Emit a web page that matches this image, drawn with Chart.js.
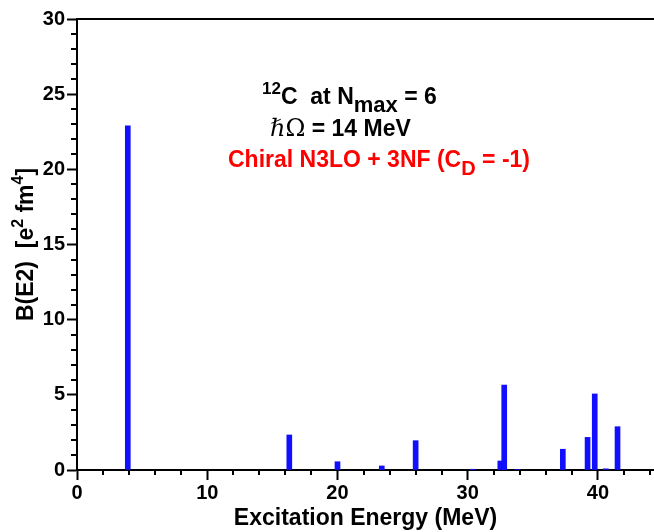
<!DOCTYPE html>
<html>
<head>
<meta charset="utf-8">
<script src="https://cdn.jsdelivr.net/npm/chart.js@4/dist/chart.umd.min.js"></script>
<style>
html,body{margin:0;padding:0;background:#fff;}
#wrap{width:654px;height:532px;position:relative;}
</style>
</head>
<body>
<div id="wrap"><canvas id="c" width="654" height="532"></canvas></div>
<script>
// Data
const energies = [3.9, 16.3, 20.0, 23.4, 26.0, 30.4, 32.5, 32.8, 33.8, 37.3, 39.2, 39.75, 40.6, 41.5];
const bE2 = [22.9, 2.33, 0.55, 0.27, 1.95, 0.05, 0.6, 5.65, 0.03, 1.38, 2.17, 5.06, 0.08, 2.88];
const xTickValues = [0, 10, 20, 30, 40];
const yTickValues = [0, 5, 10, 15, 20, 25, 30];
const xTitle = 'Excitation Energy (MeV)';

const SANS = '"Liberation Sans", Arial, sans-serif';
const points = energies.map((e, i) => ({x: e, y: bE2[i]}));

function drawRich(ctx, parts, x, y) {
  let cx = x;
  parts.forEach(p => {
    ctx.font = p.font;
    ctx.fillText(p.t, cx, y + (p.dy || 0));
    cx += ctx.measureText(p.t).width + (p.gap || 0);
  });
  return cx - x;
}
function richWidth(ctx, parts) {
  let w = 0;
  parts.forEach(p => { ctx.font = p.font; w += ctx.measureText(p.t).width + (p.gap || 0); });
  return w;
}

const decor = {
  id: 'decor',
  afterDraw(chart) {
    const ctx = chart.ctx;
    const xs = chart.scales.x, ys = chart.scales.y;
    const ca = chart.chartArea;
    ctx.save();
    ctx.strokeStyle = '#000';
    ctx.lineWidth = 2;
    // top frame line
    ctx.beginPath();
    ctx.moveTo(ca.left, ca.top);
    ctx.lineTo(ca.right + 2, ca.top);
    ctx.stroke();
    // minor ticks
    ctx.beginPath();
    for (let v = 1; v < 30; v++) {
      if (v % 5 === 0) continue;
      const py = Math.round(ys.getPixelForValue(v));
      ctx.moveTo(ca.left, py);
      ctx.lineTo(ca.left - 6, py);
    }
    for (let v = 2; v <= 44; v += 2) {
      if (v % 10 === 0) continue;
      const px = Math.round(xs.getPixelForValue(v));
      ctx.moveTo(px, ca.bottom);
      ctx.lineTo(px, ca.bottom + 5);
    }
    ctx.stroke();

    ctx.fillStyle = '#000';
    ctx.textBaseline = 'alphabetic';
    // x title
    ctx.font = 'bold 23px ' + SANS;
    ctx.textAlign = 'center';
    ctx.fillText(xTitle, (ca.left + ca.right) / 2, 525);
    ctx.textAlign = 'left';

    // y title (rotated)
    const yParts = [
      {t: 'B(E2)  [e', font: 'bold 23px ' + SANS},
      {t: '2', font: 'bold 16px ' + SANS, dy: -10},
      {t: ' fm', font: 'bold 23px ' + SANS},
      {t: '4', font: 'bold 16px ' + SANS, dy: -10},
      {t: ']', font: 'bold 23px ' + SANS}
    ];
    ctx.save();
    ctx.translate(33, (ca.top + ca.bottom) / 2);
    ctx.rotate(-Math.PI / 2);
    const yw = richWidth(ctx, yParts);
    drawRich(ctx, yParts, -yw / 2, 0);
    ctx.restore();

    // annotation lines
    drawRich(ctx, [
      {t: '12', font: 'bold 17px ' + SANS, dy: -10},
      {t: 'C  at N', font: 'bold 23px ' + SANS},
      {t: 'max', font: 'bold 22px ' + SANS, dy: 8},
      {t: ' = 6', font: 'bold 23px ' + SANS}
    ], 262, 104);
    drawRich(ctx, [
      {t: 'ℏΩ', font: '24px "DejaVu Serif", serif'},
      {t: ' = 14 MeV', font: 'bold 23px ' + SANS}
    ], 270, 136);
    ctx.fillStyle = '#ff0000';
    drawRich(ctx, [
      {t: 'Chiral N3LO + 3NF (C', font: 'bold 23px ' + SANS},
      {t: 'D', font: 'bold 20px ' + SANS, dy: 8},
      {t: ' = -1)', font: 'bold 23px ' + SANS}
    ], 228, 167);
    ctx.restore();
  }
};

new Chart(document.getElementById('c'), {
  type: 'bar',
  data: {
    datasets: [{
      data: points,
      backgroundColor: 'rgb(16,16,255)',
      borderWidth: 0,
      barThickness: 5
    }]
  },
  options: {
    responsive: false,
    animation: false,
    devicePixelRatio: 1,
    layout: {padding: {top: 19, right: 0, left: 0, bottom: 0}},
    plugins: {legend: {display: false}, tooltip: {enabled: false}},
    scales: {
      x: {
        type: 'linear',
        min: 0,
        max: 44.3,
        offset: false,
        afterBuildTicks: s => { s.ticks = xTickValues.map(v => ({value: v})); },
        afterFit: s => { s.height = 62; },
        grid: {offset: false, drawOnChartArea: false, drawTicks: true, tickLength: 10, tickWidth: 2, tickColor: '#000'},
        border: {display: true, color: '#000', width: 2},
        ticks: {color: '#000', font: {family: SANS, size: 20, weight: 'bold'}, padding: 1, maxRotation: 0}
      },
      y: {
        min: 0,
        max: 30,
        afterBuildTicks: s => { s.ticks = yTickValues.map(v => ({value: v})); },
        afterFit: s => { s.width = 77; },
        grid: {offset: false, drawOnChartArea: false, drawTicks: true, tickLength: 10, tickWidth: 2, tickColor: '#000'},
        border: {display: true, color: '#000', width: 2},
        ticks: {color: '#000', font: {family: SANS, size: 20, weight: 'bold'}, padding: 2}
      }
    }
  },
  plugins: [decor]
});
</script>
</body>
</html>
